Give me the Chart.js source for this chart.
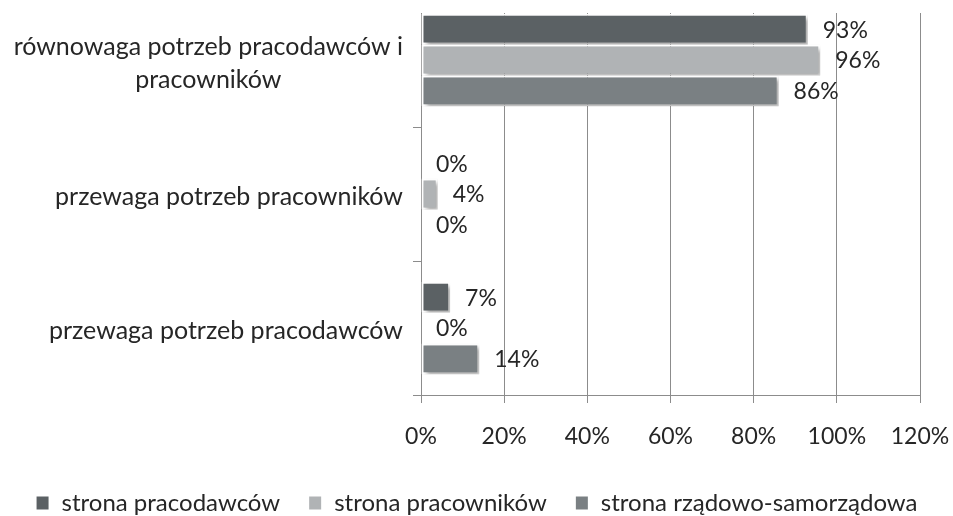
<!DOCTYPE html>
<html>
<head>
<meta charset="utf-8">
<script src="https://cdn.jsdelivr.net/npm/chart.js@4/dist/chart.umd.min.js"></script>
<style>
  html, body { margin: 0; padding: 0; background: #fff; }
  #wrap { position: relative; width: 953px; height: 516px; overflow: hidden; }
  #c { position: absolute; left: 0; top: -30px; }
  #mask { position: absolute; left: 415px; top: 0; width: 538px; height: 13px; background: #fff; }
</style>
</head>
<body>
<div id="wrap">
  <canvas id="c" width="953" height="560"></canvas>
  <div id="mask"></div>
</div>
<script>
const categories = [
  ["równowaga potrzeb pracodawców i", "pracowników"],
  ["przewaga potrzeb pracowników"],
  ["przewaga potrzeb pracodawców"]
];
const seriesNames = ["strona pracodawców", "strona pracowników", "strona rządowo-samorządowa"];
const pracodawcow = [93, 0, 7];
const pracownikow = [96, 4, 0];
const rzadowo = [86, 0, 14];
const xTicks = [0, 20, 40, 60, 80, 100, 120];
const colors = ["#5b6164", "#b0b3b5", "#7a8083"];

const FONT = "Lato";
const TEXT = "#262626";
const GRID = "#8c8c8c";

const shadowPlugin = {
  id: "barShadow",
  beforeDatasetsDraw(chart) {
    const ctx = chart.ctx;
    ctx.save();
    ctx.shadowColor = "rgba(0,0,0,0.33)";
    ctx.shadowOffsetX = 3;
    ctx.shadowOffsetY = 3;
    ctx.shadowBlur = 4;
  },
  afterDatasetsDraw(chart) {
    chart.ctx.restore();
  }
};

const valueLabels = {
  id: "valueLabels",
  afterDraw(chart) {
    const ctx = chart.ctx;
    ctx.save();
    ctx.font = "23px " + FONT;
    ctx.fillStyle = TEXT;
    ctx.textAlign = "left";
    ctx.textBaseline = "middle";
    chart.data.datasets.forEach((ds, di) => {
      const meta = chart.getDatasetMeta(di);
      meta.data.forEach((el, i) => {
        ctx.fillText(ds.data[i] + "%", el.x + 15, el.y + 1);
      });
    });
    ctx.restore();
  }
};

const yLabels = {
  id: "yLabels",
  afterDraw(chart) {
    const ctx = chart.ctx;
    const ys = chart.scales.y;
    ctx.save();
    ctx.font = "25px " + FONT;
    ctx.fillStyle = TEXT;
    ctx.textAlign = "center";
    ctx.textBaseline = "middle";
    const right = chart.chartArea.left - 18;
    const lh = 33;
    categories.forEach((lines, i) => {
      const cy = ys.getPixelForValue(i) + 3;
      const w = Math.max(...lines.map(l => ctx.measureText(l).width));
      const cx = right - w / 2;
      lines.forEach((l, k) => {
        ctx.fillText(l, cx, cy + (k - (lines.length - 1) / 2) * lh);
      });
    });
    ctx.restore();
  }
};

new Chart(document.getElementById("c"), {
  type: "bar",
  data: {
    labels: categories,
    datasets: [
      { label: seriesNames[0], data: pracodawcow, backgroundColor: colors[0] },
      { label: seriesNames[1], data: pracownikow, backgroundColor: colors[1] },
      { label: seriesNames[2], data: rzadowo, backgroundColor: colors[2] }
    ]
  },
  options: {
    indexAxis: "y",
    responsive: false,
    animation: false,
    devicePixelRatio: 1,
    layout: { padding: { top: 23, right: 0, left: 0, bottom: 5 } },
    datasets: {
      bar: {
        categoryPercentage: 0.69,
        barPercentage: 1.0,
        borderColor: "#ffffff",
        borderWidth: 2,
        borderSkipped: false
      }
    },
    scales: {
      x: {
        type: "linear",
        min: 0,
        max: 120,
        afterBuildTicks(s) { s.ticks = xTicks.map(v => ({ value: v })); },
        afterFit(s) { s.paddingLeft = 0; s.paddingRight = 33; s.height = 68; },
        ticks: {
          callback: v => v + "%",
          font: { family: FONT, size: 23 },
          color: TEXT,
          padding: 20,
          maxRotation: 0
        },
        grid: { color: GRID, lineWidth: 1, tickLength: 8, drawTicks: true },
        border: { color: GRID, width: 1 }
      },
      y: {
        type: "category",
        offset: true,
        afterFit(s) { s.width = 421; },
        ticks: { display: false },
        grid: { offset: true, drawOnChartArea: false, color: GRID, tickLength: 8 },
        border: { color: GRID, width: 1 }
      }
    },
    plugins: {
      legend: {
        position: "bottom",
        labels: {
          font: { family: FONT, size: 24 },
          color: TEXT,
          boxWidth: 14,
          boxHeight: 15,
          padding: 28
        }
      },
      tooltip: { enabled: false }
    }
  },
  plugins: [shadowPlugin, valueLabels, yLabels]
});
</script>
</body>
</html>
